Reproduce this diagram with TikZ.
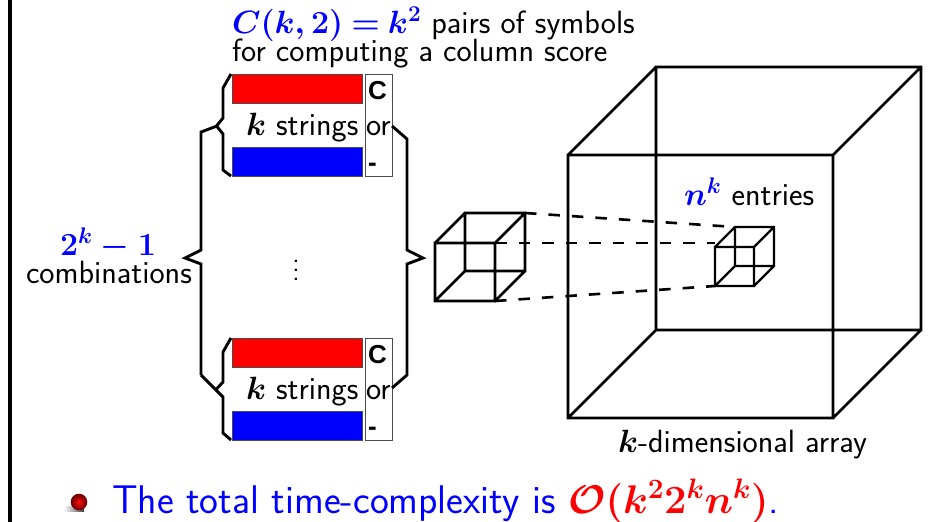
\RequirePackage{fix-cm}
\documentclass[tikz,border=0pt]{standalone}
\usepackage[no-math]{fontspec}
\newfontfamily\hvfont{Liberation Sans}
\definecolor{bluetxt}{RGB}{0,0,255}
\tikzset{
  sanslabel/.style={inner sep=0pt,outer sep=0pt,anchor=base west,font=\fontsize{32.2}{36}\selectfont\sffamily},
  bracepath/.style={line width=2.9pt,line join=miter,black},
  cubeline/.style={line width=2.8pt,line join=miter,black},
  tinyline/.style={line width=2.4pt,line join=miter,black},
  dashline/.style={line width=2.6pt,black,dash pattern=on 11.5pt off 12pt},
  strbar/.style={draw=black!70,line width=0.7pt,inner sep=0pt,outer sep=0pt,minimum width=130pt,minimum height=29pt,anchor=north west},
  sidebox/.style={draw=black!70,line width=0.7pt,fill=white,inner sep=0pt,outer sep=0pt,minimum width=27pt,minimum height=102pt,anchor=north west},
  boldhv/.style={inner sep=0pt,outer sep=0pt,anchor=base west,font=\fontsize{26}{30}\selectfont\hvfont\bfseries}
}
\newcommand{\bm}[1]{{\boldmath$#1$}}
\begin{document}
\begin{tikzpicture}[x=1pt,y=-1pt]
\useasboundingbox (0,0) rectangle (929,522);
% left bar
\fill[black] (8,0) rectangle (12,522);
% string groups
\node[sidebox] (sa) at (365,74) {};
\node[strbar,fill=red] (ra) at (232,74) {};
\node[strbar,fill=bluetxt] (ba) at (232,147) {};
\node[sidebox] (sb) at (365,338) {};
\node[strbar,fill=red] (rb) at (232,338) {};
\node[strbar,fill=bluetxt] (bb) at (232,411) {};
\node[boldhv] (ca) at (368,99) {C};
\node[boldhv] (da) at (368,171) {-};
\node[boldhv] (cb) at (368,363) {C};
\node[boldhv] (db) at (368,435) {-};
\node[sanslabel] (ora) at (366,135) {or};
\node[sanslabel] (orb) at (366,399) {or};
\node[sanslabel] (ka) at (246,135) {\bm{k} strings};
\node[sanslabel] (kb) at (246,399) {\bm{k} strings};
% top label
\node[sanslabel] (t1) at (232,33.5) {{\color{bluetxt}\bm{C(k,2)\mskip-1mu=\mskip-1mu k^2}} pairs of symbols};
\node[sanslabel] (t2) at (232,61) {for computing a column score};
% left label
\node[sanslabel,color=bluetxt] (l1) at (60,255) {\bm{2^k-1}};
\node[sanslabel] (l2) at (26,283) {combinations};
\node[inner sep=0pt,outer sep=0pt,anchor=base,font=\fontsize{28}{9}\selectfont\sffamily] (vd) at (296,280) {\vbox{\baselineskip=9pt\lineskiplimit=-100pt\hbox{.}\hbox{.}\hbox{.}}};
% braces
\draw[bracepath] (231,74) -- (223,88) -- (223,118) -- (216.5,126) -- (223,134) -- (223,170) -- (231,176);
\draw[bracepath] (231,338) -- (223,352) -- (223,382) -- (216.5,389);
\draw[bracepath] (201,375) -- (223,397) -- (223,433) -- (231,440);
\draw[bracepath] (217,126) -- (201,132) -- (201,250) -- (185,258) -- (201,264) -- (201,375);
\draw[bracepath] (392,126) -- (407,139) -- (407,250) -- (423,258) -- (407,264) -- (407,375) -- (392,388);
% big cube
\coordinate (A1) at (568,155); \coordinate (A2) at (833,155); \coordinate (A3) at (833,418); \coordinate (A4) at (568,418);
\coordinate (B1) at (656,67); \coordinate (B2) at (921,67); \coordinate (B3) at (921,330); \coordinate (B4) at (656,330);
\draw[cubeline] (A1)--(A2)--(A3)--(A4)--cycle (B1)--(B2)--(B3)--(B4)--cycle (A1)--(B1) (A2)--(B2) (A3)--(B3) (A4)--(B4);
% small cube
\coordinate (C1) at (435,243); \coordinate (C2) at (495,243); \coordinate (C3) at (495,301); \coordinate (C4) at (435,301);
\coordinate (D1) at (465,213); \coordinate (D2) at (525,213); \coordinate (D3) at (525,271); \coordinate (D4) at (465,271);
\draw[cubeline] (C1)--(C2)--(C3)--(C4)--cycle (D1)--(D2)--(D3)--(D4)--cycle (C1)--(D1) (C2)--(D2) (C3)--(D3) (C4)--(D4);
% tiny cube
\coordinate (E1) at (715,247); \coordinate (E2) at (754,247); \coordinate (E3) at (754,286); \coordinate (E4) at (715,286);
\coordinate (F1) at (735,227); \coordinate (F2) at (774,227); \coordinate (F3) at (774,266); \coordinate (F4) at (735,266);
\draw[tinyline] (E1)--(E2)--(E3)--(E4)--cycle (F1)--(F2)--(F3)--(F4)--cycle (E1)--(F1) (E2)--(F2) (E3)--(F3) (E4)--(F4);
% dashes
\coordinate (G1) at (715,243);
\draw[dashline] (D2)--(F1);
\draw[dashline] (C2)--(G1);
\draw[dashline] (C3)--(E4);
% labels on right
\node[sanslabel] (ne) at (684,205) {{\color{bluetxt}\bm{n^k}} entries};
\node[sanslabel] (kd) at (618,452) {\bm{k}-dimensional array};
% bullet
\shade[left color=white,right color=black!75] (64,506.5) rectangle (84,511.5);
\shade[inner color=red!95!white,outer color=red!40!black] (79,502) circle (8.3pt);
\node[sanslabel,font=\fontsize{40}{44}\selectfont\sffamily,color=bluetxt] (tt) at (112,513) {The total time-complexity is {\color{red}\bm{\mathcal{O}(k^2 2^k n^k)}}.};
\end{tikzpicture}
\end{document}
